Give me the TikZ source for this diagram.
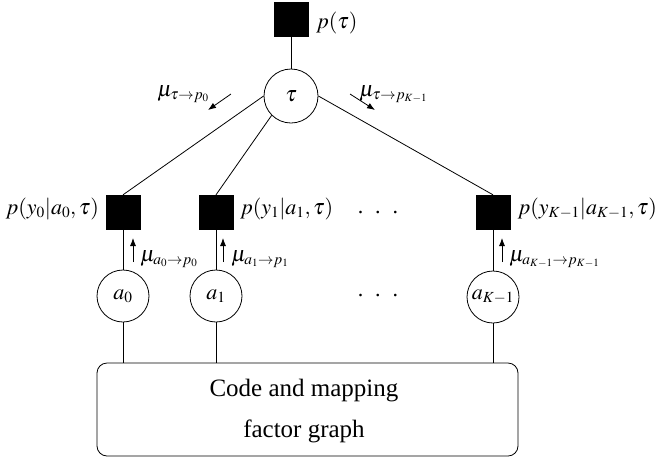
\documentclass[tikz,border=0pt]{standalone}
\usepackage{mathptmx}
\usepackage[no-math]{fontspec}
\setmainfont{Liberation Serif}
\DeclareMathSizes{22}{22}{15.4}{11}
\usetikzlibrary{arrows.meta}
\begin{document}
\begin{tikzpicture}[x=1pt,y=-1pt,
  every node/.style={font=\fontsize{22}{26}\selectfont,inner sep=0pt},
  fac/.style={draw,fill=black,minimum size=34pt,inner sep=0pt},
  var/.style={draw,circle,minimum size=52pt,inner sep=0pt,line width=0.8pt},
  edge/.style={line width=0.8pt},
  msg/.style={line width=0.8pt,-{Latex[length=8pt,width=6pt]}},
  bigbox/.style={draw,line width=0.8pt,rounded corners=10pt,minimum width=421pt,minimum height=93pt},
  boxtext/.style={align=center,font=\fontsize{25}{41}\selectfont}
]
\useasboundingbox (0,0) rectangle (656,459);
% factor nodes
\node[fac] (ft) at (291,19) {};
\node[fac] (f0) at (123,212) {};
\node[fac] (f1) at (216,212) {};
\node[fac] (fK) at (493,212) {};
% variable nodes
\node[var,minimum size=54pt] (tau) at (291,96) {$\tau$};
\node[var] (a0) at (123,296) {$a_0$};
\node[var] (a1) at (216,296) {$a_1$};
\node[var] (aK) at (493,297) {$a_{K-1}$};
% box
\node[bigbox] (box) at (307.5,409.5) {};
\node[boxtext] (boxt) at (304,411.5) {Code and mapping\\factor graph};
% labels
\node[anchor=base west] (lt) at (316,28) {$p(\tau)$};
\node[anchor=base east] (l0) at (99,214) {$p(y_0|a_0,\tau)$};
\node[anchor=base west] (l1) at (240,214) {$p(y_1|a_1,\tau)$};
\node[anchor=base west] (lK) at (517.5,214) {$p(y_{K-1}|a_{K-1},\tau)$};
\node[anchor=base] (d1) at (378,213) {.\hspace{12pt}.\hspace{12pt}.};
\node[anchor=base] (d2) at (378,296) {.\hspace{12pt}.\hspace{12pt}.};
% edges
\draw[edge] (ft) -- (tau);
\draw[edge] (tau.west) -- (f0.north);
\draw[edge] (tau.south west) -- (f1.north);
\draw[edge] (tau.east) -- (fK.north);
\draw[edge] (f0) -- (a0);
\draw[edge] (f1) -- (a1);
\draw[edge] (fK) -- (aK);
\draw[edge] (a0.south) -- (a0.south |- box.north);
\draw[edge] (a1.south) -- (a1.south |- box.north);
\draw[edge] (aK.south) -- (aK.south |- box.north);
% messages
\coordinate (mls) at (231,94); \coordinate (mle) at (208,110);
\coordinate (mrs) at (350,94); \coordinate (mre) at (375,110);
\draw[msg] (mls) -- (mle);
\draw[msg] (mrs) -- (mre);
\node[anchor=base west] (ml) at (157,96) {$\mu_{\tau\rightarrow p_0}$};
\node[anchor=base west] (mr) at (359,96) {$\mu_{\tau\rightarrow p_{K-1}}$};
\coordinate (m0s) at (133,262); \coordinate (m0e) at (133,238);
\coordinate (m1s) at (223,262); \coordinate (m1e) at (223,238);
\coordinate (mKs) at (502,262); \coordinate (mKe) at (502,238);
\draw[msg] (m0s) -- (m0e);
\draw[msg] (m1s) -- (m1e);
\draw[msg] (mKs) -- (mKe);
\node[anchor=base west] (u0) at (140,261) {$\mu_{a_0\rightarrow p_0}$};
\node[anchor=base west] (u1) at (231,261) {$\mu_{a_1\rightarrow p_1}$};
\node[anchor=base west] (uK) at (509,261) {$\mu_{a_{K-1}\rightarrow p_{K-1}}$};
\end{tikzpicture}
\end{document}
